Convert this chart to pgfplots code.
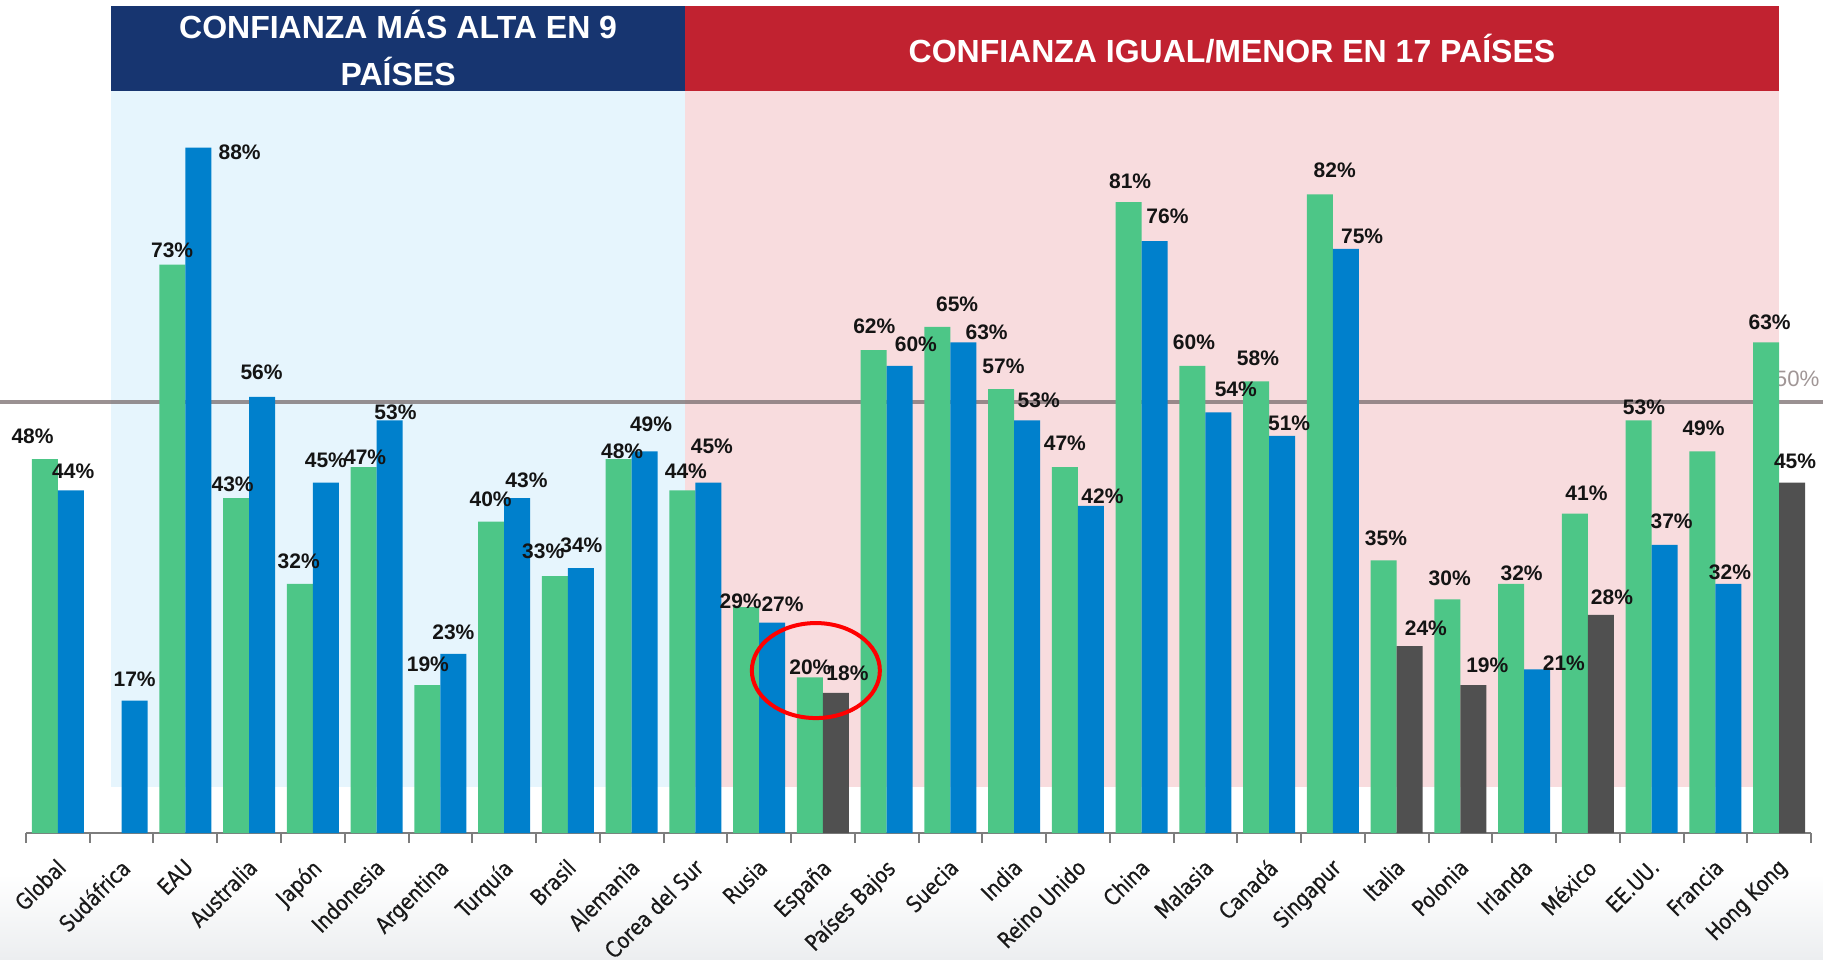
\documentclass[border=0pt]{standalone}
\usepackage{pgfplots}
\pgfplotsset{compat=1.18}
\usepackage{pgfplotstable}
\usepackage{fontspec}
\setmainfont{Liberation Sans}
\newfontfamily\tickfont{DejaVu Sans}[FakeStretch=0.85,FakeBold=0.5]
\definecolor{cgreen}{RGB}{77,198,135}
\definecolor{cblue}{RGB}{0,128,204}
\definecolor{cgray}{RGB}{80,80,80}
\definecolor{cnavy}{RGB}{23,53,112}
\definecolor{cred}{RGB}{193,34,48}
\definecolor{bgblue}{RGB}{230,245,253}
\definecolor{bgpink}{RGB}{248,220,222}
\definecolor{lgray}{RGB}{120,108,110}
\definecolor{axgray}{RGB}{125,125,125}
\definecolor{fgray}{RGB}{160,150,150}

% green series: k value dx dy (label offsets)
\pgfplotstableread{
k v dx dy
0 48 -10.6 20
2 73 -0.2 12
3 43 -3 12
4 32 -1 19
5 47 1.3 8
6 19 0.4 18
7 40 -0.4 19
8 33 -10 21
9 48 3 7
10 44 3 16
11 29 -4.7 5
12 20 0.4 9
13 62 0.6 21
14 65 17 19
15 57 2 20
16 47 0 20
17 81 1.3 18
18 60 1.4 20
19 58 1.6 20
20 82 12.8 21
21 35 2 19
22 30 2 18
23 32 9 9
24 41 10 18
25 53 4.6 11
26 49 1 20
27 63 3 17
}\greentab

\pgfplotstableread{
k v dx dy
0 44 2 16
1 17 0 18
2 88 35.5 -4
3 56 -0.5 21
4 45 0 19
5 53 5 7
6 23 0 19
7 43 8 15
8 34 0.4 19.5
9 49 5.5 23
10 45 3 31
11 27 9 16
13 60 14 18.6
14 63 20 8.5
15 53 10 17
16 42 10 8
17 76 11 21
18 54 15 20
19 51 6 11
20 75 14 11
23 21 23 5
25 37 6 20.5
26 32 1.4 10
}\bluetab

\pgfplotstableread{
k v dx dy
12 18 10 16.6
21 24 14 15
22 19 12 17
24 28 9.5 15.5
27 45 2.5 18
}\graytab

\pgfplotsset{
  lbl/.style={draw=none, mark=none, point meta=explicit symbolic,
    nodes near coords={\pgfplotspointmeta\%},
    every node near coord/.append style={anchor=center,
      font=\bfseries\fontsize{8.4}{10}\selectfont, text=black!92, inner sep=0pt}},
}

\begin{document}
\begin{tikzpicture}
\useasboundingbox (0,0) rectangle (729.2pt,383.6pt);
\shade[top color=white,bottom color={rgb,255:red,236;green,238;blue,240}] (0,0) rectangle (729.2pt,34pt);
\begin{axis}[
  at={(10.4pt,50.4pt)}, anchor=south west,
  scale only axis, width=714pt, height=330.8pt,
  xmin=-0.5, xmax=27.5, ymin=0, ymax=106.2,
  clip=false,
  axis x line=bottom, axis y line=none,
  x axis line style={-, draw=axgray, line width=0.8pt},
  ytick=\empty,
  xtick={0,...,27},
  xticklabels={Global,Sudáfrica,EAU,Australia,Japón,Indonesia,Argentina,Turquía,Brasil,Alemania,Corea del Sur,Rusia,España,Países Bajos,Suecia,India,Reino Unido,China,Malasia,Canadá,Singapur,Italia,Polonia,Irlanda,México,EE.UU.,Francia,Hong Kong},
  major tick length=0pt,
  minor xtick={-0.5,0.5,...,27.5},
  minor tick length=4pt,
  tick align=outside,
  every minor tick/.style={draw=axgray, line width=0.8pt},
  xticklabel style={xshift=-1pt, yshift=-9.5pt, rotate=45, anchor=north east, inner sep=0pt,
    font=\tickfont\fontsize{8.9}{10}\selectfont, text=black!90},
]
\fill[bgblue] (axis cs:0.841,5.9) rectangle (axis cs:9.834,95.3);
\fill[bgpink] (axis cs:9.834,5.9) rectangle (axis cs:27.0,95.3);
\fill[cnavy] (axis cs:0.841,95.3) rectangle (axis cs:9.834,106.2);
\fill[cred] (axis cs:9.834,95.3) rectangle (axis cs:27.0,106.2);
\draw[lgray, opacity=0.75, line width=1.6pt] (axis cs:-1,55.4) -- (axis cs:28,55.4);
\node[anchor=base east, text=fgray, inner sep=0pt, font=\fontsize{8.9}{10}\selectfont] at (axis cs:27.64,57.4) {50\%};

\addplot[ybar, bar width=10.4pt, bar shift=-5.2pt, fill=cgreen, draw=none] table[x=k,y=v]{\greentab};
\addplot[ybar, bar width=10.4pt, bar shift=5.2pt, fill=cblue, draw=none] table[x=k,y=v]{\bluetab};
\addplot[ybar, bar width=10.4pt, bar shift=5.2pt, fill=cgray, draw=none] table[x=k,y=v]{\graytab};

\addplot[lbl] table[x expr={\thisrow{k}-0.2039+0.018237*\thisrow{dx}}, y expr={\thisrow{v}+0.14924*\thisrow{dy}}, meta=v]{\greentab};
\addplot[lbl] table[x expr={\thisrow{k}+0.2039+0.018237*\thisrow{dx}}, y expr={\thisrow{v}+0.14924*\thisrow{dy}}, meta=v]{\bluetab};
\addplot[lbl] table[x expr={\thisrow{k}+0.2039+0.018237*\thisrow{dx}}, y expr={\thisrow{v}+0.14924*\thisrow{dy}}, meta=v]{\graytab};

\node[text=white, font=\bfseries\fontsize{12.8}{18.8}\selectfont, align=center] at (axis cs:5.3375,100.75) {CONFIANZA MÁS ALTA EN 9\\PAÍSES};
\node[text=white, font=\bfseries\fontsize{12.8}{18.8}\selectfont, align=center] at (axis cs:18.417,100.75) {CONFIANZA IGUAL/MENOR EN 17 PAÍSES};

\draw[red, line width=1.6pt] (axis cs:11.89,20.86) ellipse [x radius=25.6pt, y radius=19pt];
\end{axis}
\end{tikzpicture}
\end{document}
